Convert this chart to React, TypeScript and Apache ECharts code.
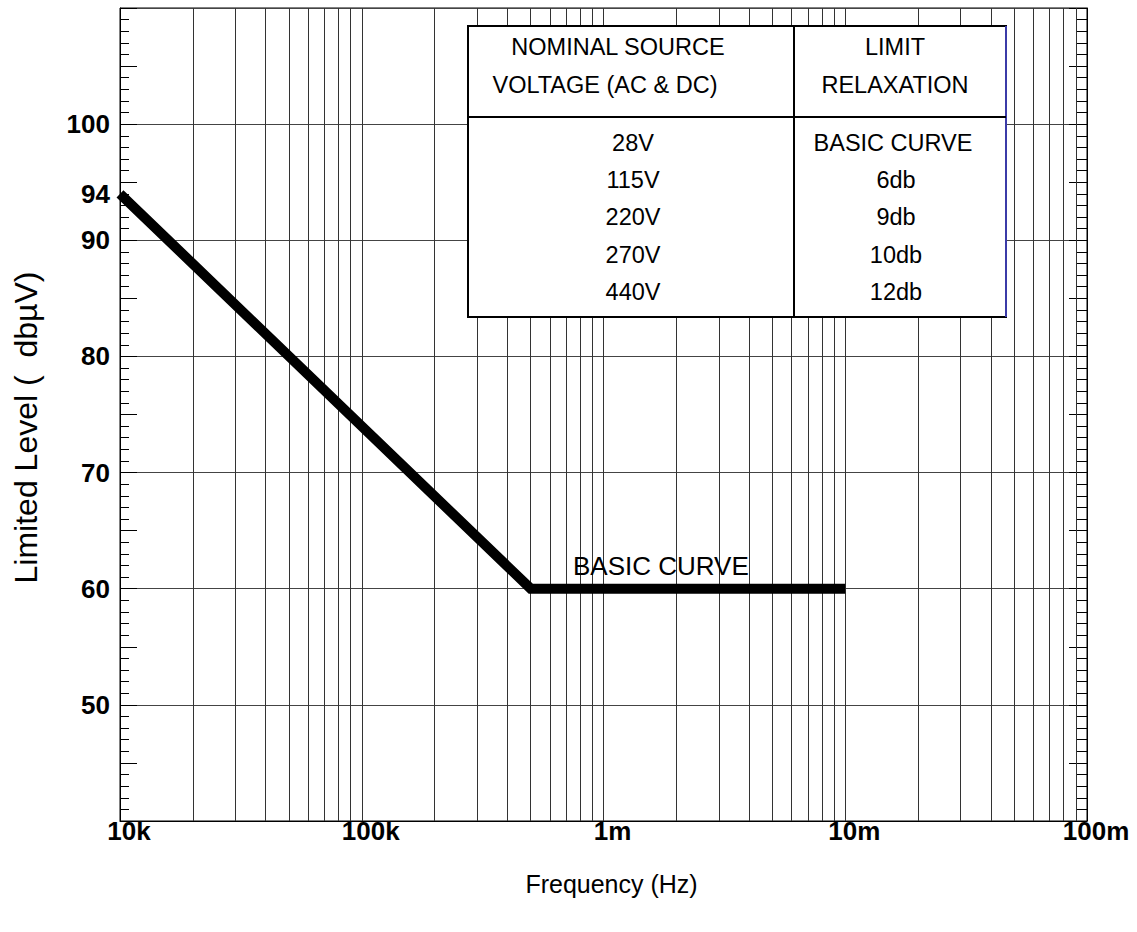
import React, { useEffect, useRef } from "react";
import * as echarts from "echarts";

// ---- data ----
const freqs = [1e4, 5e5, 1e7];
const levels = [94, 60, 60];
const yLabelValues = [50, 60, 70, 80, 90, 94, 100];
const xDecades = [1e4, 1e5, 1e6, 1e7, 1e8];
const xTickLabels = ["10k", "100k", "1m", "10m", "100m"];
const gridMultipliers = [2, 3, 4, 5, 6, 7, 8, 9];
const curveLabel = "BASIC CURVE";
const headerLeft = ["NOMINAL SOURCE", "VOLTAGE (AC & DC)"];
const headerRight = ["LIMIT", "RELAXATION"];
const voltages = ["28V", "115V", "220V", "270V", "440V"];
const relaxations = ["BASIC CURVE", "6db", "9db", "10db", "12db"];

const FONT = "'Liberation Sans', Arial, Helvetica, sans-serif";

export default function App() {
  const ref = useRef<HTMLDivElement>(null);

  useEffect(() => {
    if (!ref.current) return;
    const chart = echarts.init(ref.current, undefined, { renderer: "svg" });

    const minorGrid: any[] = [];
    xDecades.slice(0, -1).forEach((d) =>
      gridMultipliers.forEach((m) => minorGrid.push({ xAxis: d * m }))
    );

    const tableLeft = 468, tableRight = 1006, tableTop = 26, tableBottom = 317;
    const headerDiv = 117, colDiv = 794;
    const leftCx = 633, rightCx = 896;
    const rowYs = [143, 180, 217, 255, 292];

    const txt = (text: string, x: number, y: number, size = 23.5) => ({
      type: "text",
      x,
      y,
      z: 102,
      style: {
        text,
        fill: "#000",
        font: `${size}px ${FONT}`,
        textAlign: "center",
        textVerticalAlign: "middle",
      },
    });

    const graphics: any[] = [
      {
        type: "rect",
        z: 100,
        shape: { x: tableLeft, y: tableTop, width: tableRight - tableLeft, height: tableBottom - tableTop },
        style: { fill: "#fff", stroke: "#000", lineWidth: 2 },
      },
      {
        type: "line",
        z: 101,
        shape: { x1: tableRight, y1: tableTop, x2: tableRight, y2: tableBottom },
        style: { stroke: "#3b3ba8", lineWidth: 2 },
      },
      {
        type: "line",
        z: 101,
        shape: { x1: tableLeft, y1: headerDiv, x2: tableRight, y2: headerDiv },
        style: { stroke: "#000", lineWidth: 2 },
      },
      {
        type: "line",
        z: 101,
        shape: { x1: colDiv, y1: tableTop, x2: colDiv, y2: tableBottom },
        style: { stroke: "#000", lineWidth: 2 },
      },
      txt(headerLeft[0], 618, 47),
      txt(headerLeft[1], 605, 85),
      txt(headerRight[0], 895, 47),
      txt(headerRight[1], 895, 85),
      ...voltages.map((v, i) => txt(v, leftCx, rowYs[i])),
      ...relaxations.map((v, i) => txt(v, i === 0 ? 893 : rightCx, rowYs[i])),
      {
        type: "text",
        x: 573,
        y: 566,
        z: 102,
        style: {
          text: curveLabel,
          fill: "#000",
          font: `26px ${FONT}`,
          textAlign: "left",
          textVerticalAlign: "middle",
        },
      },
    ];

    const yBase = { type: "value", min: 40, max: 110 };

    chart.setOption({
      animation: false,
      backgroundColor: "#fff",
      grid: {
        left: 120,
        right: 50,
        top: 8,
        bottom: 111,
        show: true,
        borderColor: "#000",
        borderWidth: 1,
        backgroundColor: "transparent",
      },
      xAxis: {
        type: "log",
        logBase: 10,
        min: 1e4,
        max: 1e8,
        name: "Frequency (Hz)",
        nameLocation: "middle",
        nameGap: 50,
        nameTextStyle: { fontFamily: FONT, fontSize: 25, color: "#000", padding: [0, 0, 0, 16] },
        axisLine: { show: true, lineStyle: { color: "#000", width: 1 } },
        axisTick: { show: false },
        axisLabel: {
          fontFamily: FONT,
          fontSize: 26,
          fontWeight: "bold",
          color: "#000",
          margin: -3,
          padding: [0, 0, 0, 18],
          formatter: (v: number) => {
            const i = xDecades.findIndex((d) => Math.abs(d - v) / d < 1e-6);
            return i >= 0 ? xTickLabels[i] : "";
          },
        },
        splitLine: { show: true, lineStyle: { color: "#333", width: 1 } },
      },
      yAxis: [
        {
          ...yBase,
          position: "left",
          interval: 1,
          name: "Limited Level (  dbµV)",
          nameLocation: "middle",
          nameGap: 78,
          nameRotate: 90,
          nameTextStyle: { fontFamily: FONT, fontSize: 32, color: "#000", padding: [0, 26, 0, 0] },
          axisLine: { show: true, lineStyle: { color: "#000", width: 1 } },
          axisTick: { show: true, inside: true, length: 9, lineStyle: { color: "#000" } },
          axisLabel: {
            fontFamily: FONT,
            fontSize: 26,
            fontWeight: "bold",
            color: "#000",
            margin: 10,
            showMinLabel: true,
            showMaxLabel: true,
            formatter: (v: number) => (yLabelValues.includes(Math.round(v)) ? String(Math.round(v)) : ""),
          },
          splitLine: { show: false },
        },
        {
          ...yBase,
          position: "left",
          interval: 5,
          axisLine: { show: false },
          axisTick: { show: true, inside: true, length: 17, lineStyle: { color: "#000" } },
          axisLabel: { show: false },
          splitLine: { show: false },
        },
        {
          ...yBase,
          position: "left",
          interval: 10,
          axisLine: { show: false },
          axisTick: { show: false },
          axisLabel: { show: false },
          splitLine: { show: true, lineStyle: { color: "#444", width: 1 } },
        },
        {
          ...yBase,
          position: "right",
          interval: 1,
          axisLine: { show: true, lineStyle: { color: "#000", width: 1 } },
          axisTick: { show: true, inside: true, length: 11, lineStyle: { color: "#000" } },
          axisLabel: { show: false },
          splitLine: { show: false },
        },
        {
          ...yBase,
          position: "right",
          interval: 5,
          axisLine: { show: false },
          axisTick: { show: true, inside: true, length: 18, lineStyle: { color: "#000" } },
          axisLabel: { show: false },
          splitLine: { show: false },
        },
      ],
      series: [
        {
          type: "line",
          z: 1,
          data: [],
          silent: true,
          markLine: {
            silent: true,
            symbol: ["none", "none"],
            label: { show: false },
            lineStyle: { color: "#333", width: 1, type: "solid" },
            data: minorGrid,
          },
        },
        {
          type: "line",
          z: 5,
          data: freqs.map((f, i) => [f, levels[i]]),
          symbol: "none",
          silent: true,
          lineStyle: { color: "#000", width: 10, cap: "butt", join: "miter" },
        },
      ],
      graphic: graphics,
    });

    return () => chart.dispose();
  }, []);

  return (
    <div
      ref={ref}
      style={{ position: "fixed", left: 0, top: 0, width: 1137, height: 932, background: "#fff" }}
    />
  );
}
